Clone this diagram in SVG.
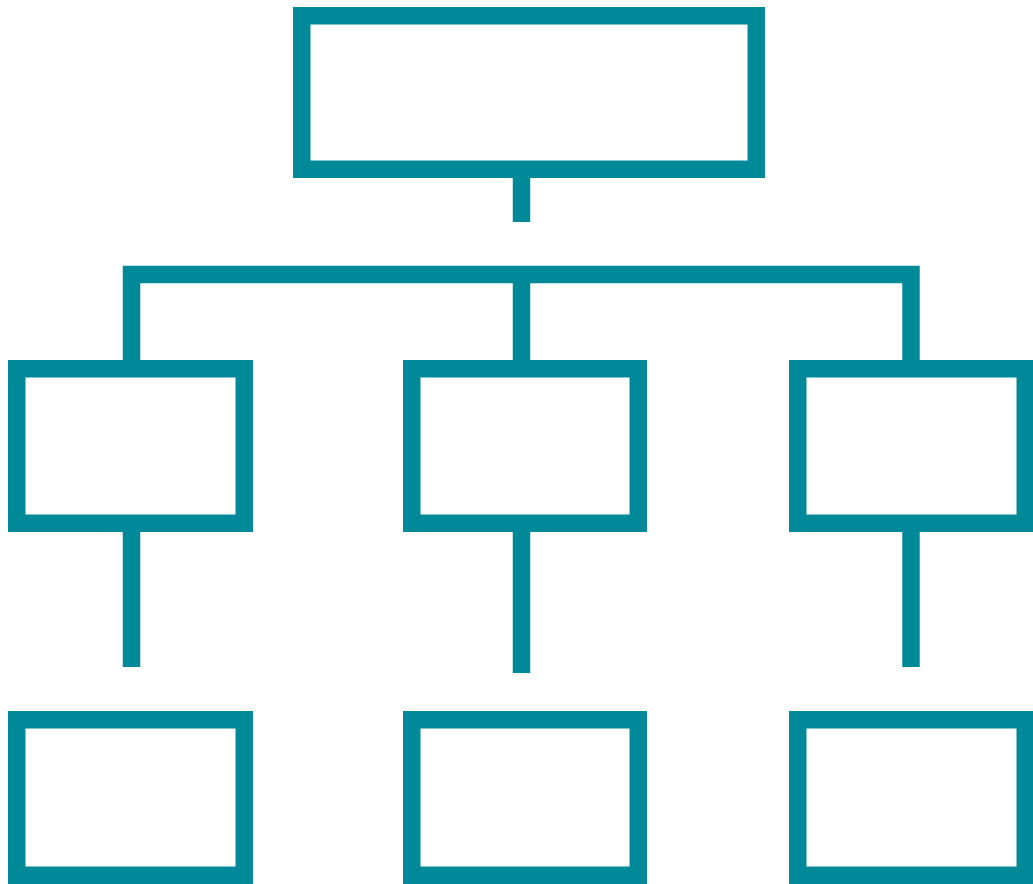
<svg xmlns="http://www.w3.org/2000/svg" width="1033" height="884" viewBox="0 0 1033 884">
<style>
.box{fill:#ffffff;stroke:#008a99;stroke-width:17.5}
.ln{fill:none;stroke:#008a99;stroke-width:17.5;stroke-linejoin:miter;stroke-linecap:butt}
</style>
<rect width="1033" height="884" fill="#ffffff"/>
<g id="connectors">
<path class="ln" d="M521.5 178 V222"/>
<path class="ln" d="M131.5 360 V274.5 H911 V360"/>
<path class="ln" d="M521.5 274.5 V360"/>
<path class="ln" d="M131.5 532 V667"/>
<path class="ln" d="M521.5 532 V673"/>
<path class="ln" d="M911 532 V667"/>
</g>
<g id="root"><rect class="box" x="301.75" y="15.75" width="454.5" height="153.5"/></g>
<g id="mid-left"><rect class="box" x="16.75" y="368.75" width="227.5" height="154.5"/></g>
<g id="mid-center"><rect class="box" x="411.75" y="368.75" width="226.5" height="154.5"/></g>
<g id="mid-right"><rect class="box" x="797.75" y="368.75" width="227.5" height="154.5"/></g>
<g id="bottom-left"><rect class="box" x="16.75" y="719.75" width="227.5" height="155.5"/></g>
<g id="bottom-center"><rect class="box" x="411.75" y="719.75" width="226.5" height="155.5"/></g>
<g id="bottom-right"><rect class="box" x="797.75" y="719.75" width="227.5" height="155.5"/></g>
</svg>
